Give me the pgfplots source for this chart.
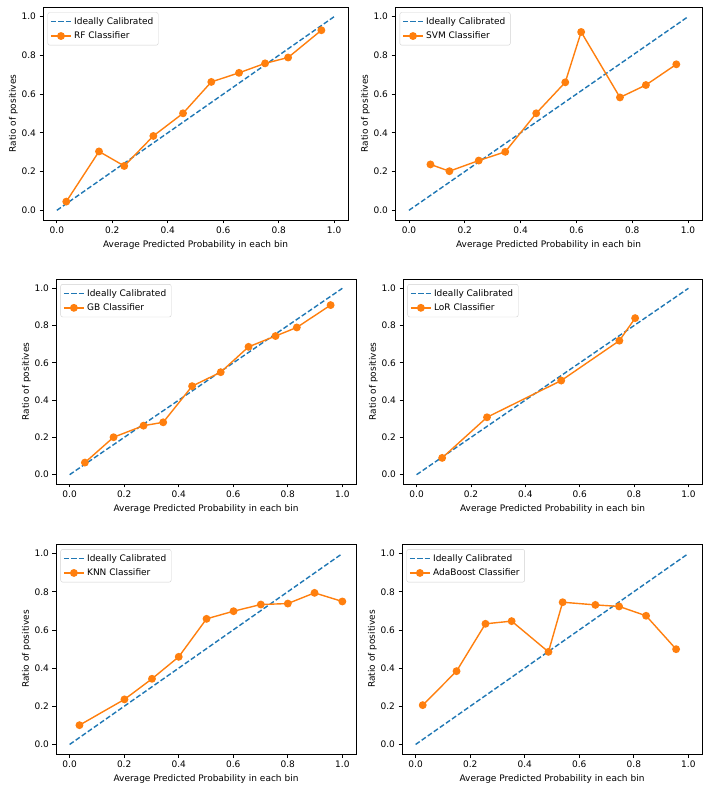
\documentclass[border=0pt]{standalone}
\usepackage{pgfplots}
\pgfplotsset{compat=1.18}
\usepackage{fontspec}
\setmainfont{DejaVu Sans}
\definecolor{tabblue}{HTML}{1F77B4}
\definecolor{taborange}{HTML}{FF7F0E}
\pgfplotsset{
  calib/.style={
    scale only axis,
    anchor=south west,
    xmin=-0.05, xmax=1.05, ymin=-0.05, ymax=1.05,
    xtick={0,0.2,0.4,0.6,0.8,1.0},
    ytick={0,0.2,0.4,0.6,0.8,1.0},
    xtick pos=bottom, ytick pos=left,
    tick align=outside,
    major tick length=3.5pt,
    every tick/.style={black, line width=0.8pt},
    axis line style={line width=0.8pt},
    /pgf/number format/assume math mode=true,
    xticklabel style={/pgf/number format/.cd, fixed, fixed zerofill, precision=1},
    yticklabel style={/pgf/number format/.cd, fixed, fixed zerofill, precision=1},
    tick label style={font=\fontsize{9}{11}\selectfont},
    label style={font=\fontsize{9}{11}\selectfont},
    xlabel={Average Predicted Probability in each bin},
    ylabel={Ratio of positives},
    xlabel style={yshift=0pt},
    ylabel style={yshift=-3pt},
    legend cell align=left,
    legend image code/.code={\draw[mark repeat=2,mark phase=2,##1] plot coordinates {(0pt,0pt) (10pt,0pt) (20pt,0pt)};},
    legend style={at={(0.015,0.975)}, anchor=north west, draw=black!18, rounded corners=2pt,
      font=\fontsize{9}{11}\selectfont, inner sep=2.5pt, row sep=1pt,
      nodes={inner sep=2.5pt}},
  },
  ideal/.style={tabblue, dashed, dash pattern=on 5pt off 2.4pt, line width=1.4pt},
  clf/.style={taborange, line width=1.4pt, mark=*, mark size=3.2pt, mark options={solid, fill=taborange, draw=taborange}},
}
\begin{document}
\begin{tikzpicture}[x=1pt,y=1pt]
\path[use as bounding box] (0,0) rectangle (708,788);

% RF
\begin{axis}[calib, at={(43pt,568pt)}, width=305pt, height=213pt]
\addplot[ideal] coordinates {(0,0) (1,1)};
\addlegendentry{Ideally Calibrated}
\addplot[clf] coordinates {(0.034,0.045) (0.152,0.304) (0.243,0.229) (0.348,0.384) (0.455,0.501) (0.557,0.663) (0.657,0.710) (0.751,0.759) (0.834,0.789) (0.954,0.930)};
\addlegendentry{RF Classifier}
\end{axis}

% SVM
\begin{axis}[calib, at={(395pt,568pt)}, width=307pt, height=213pt]
\addplot[ideal] coordinates {(0,0) (1,1)};
\addlegendentry{Ideally Calibrated}
\addplot[clf] coordinates {(0.077,0.237) (0.145,0.202) (0.250,0.257) (0.345,0.302) (0.456,0.501) (0.560,0.661) (0.617,0.921) (0.756,0.583) (0.849,0.647) (0.958,0.754)};
\addlegendentry{SVM Classifier}
\end{axis}

% GB
\begin{axis}[calib, at={(56pt,304pt)}, width=300pt, height=205pt]
\addplot[ideal] coordinates {(0,0) (1,1)};
\addlegendentry{Ideally Calibrated}
\addplot[clf] coordinates {(0.056,0.065) (0.161,0.201) (0.271,0.263) (0.343,0.281) (0.449,0.475) (0.554,0.550) (0.656,0.686) (0.755,0.744) (0.833,0.790) (0.957,0.910)};
\addlegendentry{GB Classifier}
\end{axis}

% LoR
\begin{axis}[calib, at={(403pt,304pt)}, width=299pt, height=205pt]
\addplot[ideal] coordinates {(0,0) (1,1)};
\addlegendentry{Ideally Calibrated}
\addplot[clf] coordinates {(0.094,0.090) (0.259,0.308) (0.532,0.505) (0.746,0.719) (0.804,0.840)};
\addlegendentry{LoR Classifier}
\end{axis}

% KNN
\begin{axis}[calib, at={(56pt,34pt)}, width=300pt, height=210pt]
\addplot[ideal] coordinates {(0,0) (1,1)};
\addlegendentry{Ideally Calibrated}
\addplot[clf] coordinates {(0.036,0.101) (0.201,0.236) (0.302,0.344) (0.400,0.459) (0.502,0.658) (0.601,0.698) (0.701,0.733) (0.800,0.738) (0.898,0.794) (1.000,0.749)};
\addlegendentry{KNN Classifier}
\end{axis}

% AdaBoost
\begin{axis}[calib, at={(402pt,34pt)}, width=300pt, height=210pt]
\addplot[ideal] coordinates {(0,0) (1,1)};
\addlegendentry{Ideally Calibrated}
\addplot[clf] coordinates {(0.026,0.206) (0.150,0.384) (0.256,0.632) (0.352,0.646) (0.487,0.485) (0.539,0.745) (0.659,0.731) (0.746,0.723) (0.845,0.674) (0.955,0.499)};
\addlegendentry{AdaBoost Classifier}
\end{axis}
\end{tikzpicture}
\end{document}
